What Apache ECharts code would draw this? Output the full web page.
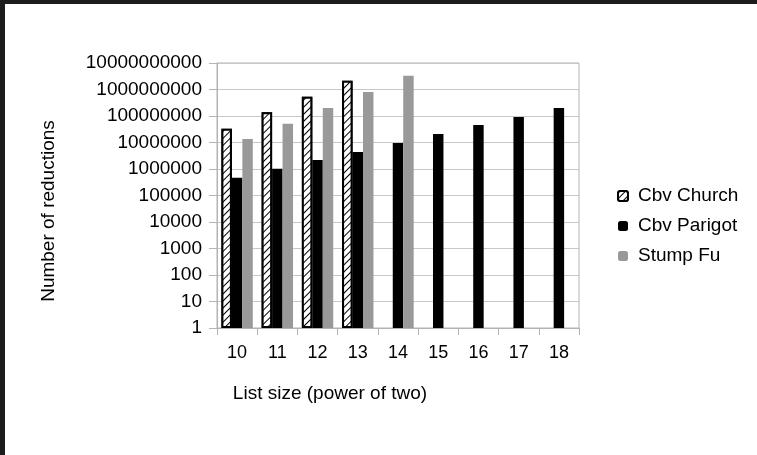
<!DOCTYPE html>
<html>
<head>
<meta charset="utf-8">
<script src="https://cdn.jsdelivr.net/npm/echarts@6/dist/echarts.min.js"></script>
<style>
html,body{margin:0;padding:0;background:#fff;}
#c{width:757px;height:455px;}
</style>
</head>
<body>
<div id="c"></div>
<script>
const categories = ['10','11','12','13','14','15','16','17','18'];
const cbvChurch = [33000000, 138000000, 530000000, 2150000000, '-', '-', '-', '-', '-'];
const cbvParigot = [470000, 1030000, 2190000, 4400000, 9500000, 21000000, 46000000, 92000000, 200000000];
const stumpFu = [13500000, 51000000, 200000000, 810000000, 3300000000, '-', '-', '-', '-'];
const yTickLabels = ['1','10','100','1000','10000','100000','1000000','10000000','100000000','1000000000','10000000000'];
const seriesNames = ['Cbv Church', 'Cbv Parigot', 'Stump Fu'];
const xTitle = 'List size (power of two)';
const yTitle = 'Number of reductions';

const font = "'Liberation Sans', Arial, sans-serif";
const chart = echarts.init(document.getElementById('c'), null, {renderer: 'canvas'});
chart.setOption({
  animation: false,
  backgroundColor: '#fff',
  textStyle: {fontFamily: font},
  grid: {left: 217, right: 178, top: 63, bottom: 127, show: true, borderColor: '#b3b3b3', borderWidth: 1, backgroundColor: 'transparent'},
  legend: {
    orient: 'vertical', left: 612, top: 181,
    itemWidth: 10, itemHeight: 10, itemGap: 10,
    textStyle: {fontSize: 19, color: '#000', fontFamily: font, lineHeight: 20, padding: [0,0,0,5]},
    data: seriesNames
  },
  xAxis: {
    type: 'category', data: categories,
    axisLine: {lineStyle: {color: '#b3b3b3'}},
    axisTick: {show: true, length: 7, lineStyle: {color: '#b3b3b3'}},
    axisLabel: {fontSize: 18, color: '#000', margin: 16, fontFamily: font}
  },
  yAxis: {
    type: 'log', logBase: 10, min: 1, max: 10000000000, interval: 1,
    axisLine: {show: true, lineStyle: {color: '#b3b3b3'}},
    axisTick: {show: true, length: 8, lineStyle: {color: '#b3b3b3'}},
    splitLine: {lineStyle: {color: '#c8c8c8'}},
    axisLabel: {fontSize: 19, color: '#000', margin: 15, fontFamily: font,
      formatter: function (v) { const i = Math.round(Math.log10(v)); return yTickLabels[i] !== undefined ? yTickLabels[i] : ''; }}
  },
  graphic: [
    {type: 'rect', shape: {x: 0, y: 0, width: 757, height: 4}, style: {fill: '#1c1c1c'}, z: 100},
    {type: 'rect', shape: {x: 0, y: 0, width: 5, height: 455}, style: {fill: '#1c1c1c'}, z: 100},
    {type: 'text', x: 330, y: 394, style: {text: xTitle, fontSize: 19, fontFamily: font, fill: '#000', textAlign: 'center', textVerticalAlign: 'middle'}},
    {type: 'text', x: 49, y: 211, rotation: Math.PI / 2, style: {text: yTitle, fontSize: 19, fontFamily: font, fill: '#000', textAlign: 'center', textVerticalAlign: 'middle'}}
  ],
  series: [
    {name: seriesNames[0], type: 'bar', data: cbvChurch, barGap: 0, barCategoryGap: '22%',
      itemStyle: {color: '#fff', borderColor: '#000', borderWidth: 2,
        decal: {symbol: 'rect', color: '#000', backgroundColor: '#fff', dashArrayX: [1, 0], dashArrayY: [1, 4], rotation: -Math.PI / 4, symbolSize: 1}}},
    {name: seriesNames[1], type: 'bar', data: cbvParigot, barGap: 0, barCategoryGap: '22%', itemStyle: {color: '#000'}},
    {name: seriesNames[2], type: 'bar', data: stumpFu, barGap: 0, barCategoryGap: '22%', itemStyle: {color: '#999999'}}
  ]
});
</script>
</body>
</html>
